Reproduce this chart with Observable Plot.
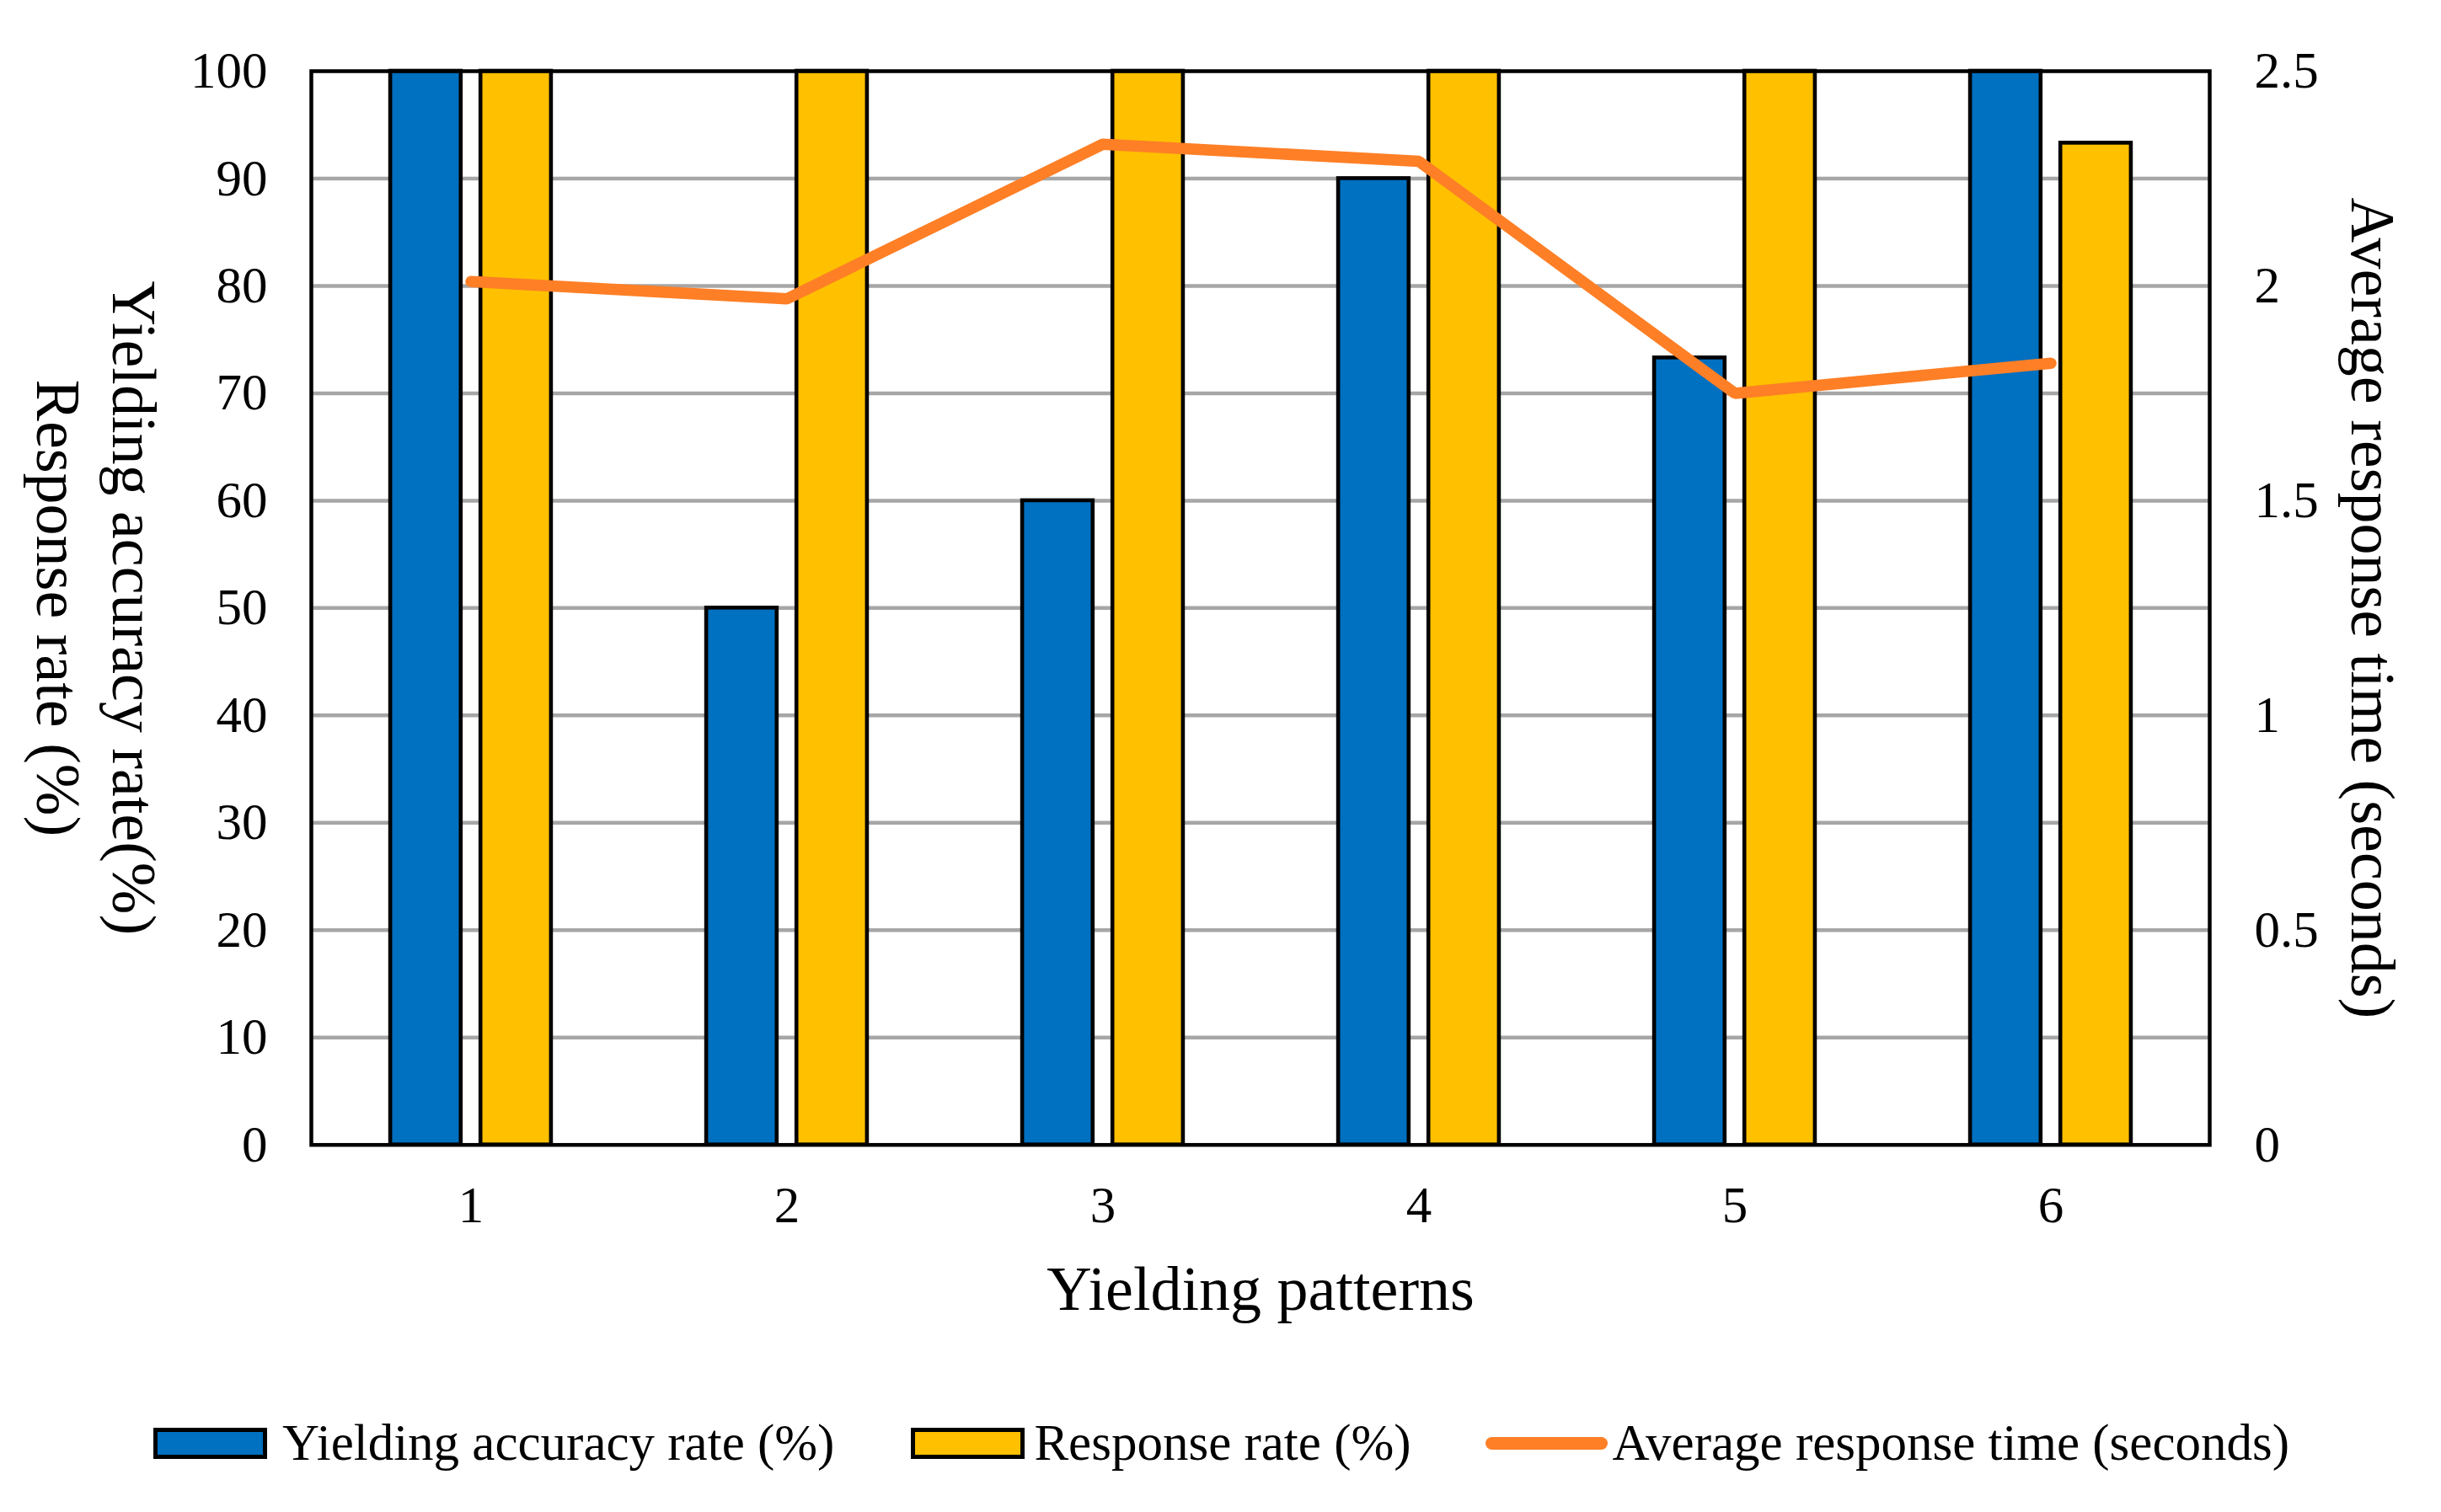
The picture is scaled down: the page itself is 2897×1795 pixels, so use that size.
<!DOCTYPE html>
<html>
<head>
<meta charset="utf-8">
<script src="https://cdn.jsdelivr.net/npm/d3@7"></script>
<script src="https://cdn.jsdelivr.net/npm/@observablehq/plot@0.6"></script>
<style>
  html, body { margin: 0; padding: 0; background: #fff; }
  body { position: relative; width: 2897px; height: 1795px; overflow: hidden; font-family: "Liberation Serif", "Times New Roman", serif; }
  #legend { position: absolute; left: 182px; top: 1675px; height: 76px; display: flex; align-items: center; font-size: 61px; color: #000; white-space: nowrap; }
  #legend .sw { width: 125px; height: 27px; border: 5px solid #000; box-sizing: content-box; }
  #legend .ln { width: 145px; height: 15px; border-radius: 8px; }
  #legend span { line-height: 76px; }
</style>
</head>
<body>
<div id="chart"></div>
<div id="legend"></div>
<script>
// ---- data ----
const patterns = ["1", "2", "3", "4", "5", "6"];
const accuracyRate = [100, 50, 60, 90, 73.3, 100];      // Yielding accuracy rate (%)
const responseRate = [100, 100, 100, 100, 100, 93.3];   // Response rate (%)
const avgResponseTime = [2.01, 1.97, 2.33, 2.29, 1.75, 1.82]; // seconds
const leftTicks = [0, 10, 20, 30, 40, 50, 60, 70, 80, 90, 100];
const rightTicks = [0, 0.5, 1, 1.5, 2, 2.5];
const seriesNames = ["Yielding accuracy rate (%)", "Response rate (%)", "Average response time (seconds)"];
const xTitle = "Yielding patterns";
const leftTitle1 = "Yielding accuracy rate(%)";
const leftTitle2 = "Response rate (%)";
const rightTitle = "Average response time (seconds)";

const colors = { accuracy: "#0070C0", response: "#FFC000", time: "#FE7F26" };

const leftMax = leftTicks[leftTicks.length - 1];
const rightMax = rightTicks[rightTicks.length - 1];
const k = leftMax / rightMax; // maps seconds onto the percent scale

const table = patterns.map((p, i) => ({
  pattern: p,
  accuracy: accuracyRate[i],
  response: responseRate[i],
  time: avgResponseTime[i]
}));
const gridValues = leftTicks.filter(v => v > 0 && v < leftMax);

const W = 2897, H = 1640;
const mL = 369, mR = W - 2622, mT = 84, mB = H - 1358.7;

const chart = Plot.plot({
  width: W,
  height: H,
  marginLeft: mL,
  marginRight: mR,
  marginTop: mT,
  marginBottom: mB,
  style: { fontFamily: "'Liberation Serif', 'Times New Roman', serif", fontSize: "61px", background: "#fff", color: "#000" },
  x: { type: "band", domain: patterns, padding: 0 },
  y: { domain: [0, leftMax] },
  marks: [
    Plot.ruleY(gridValues, { stroke: "#A6A6A6", strokeWidth: 4.5 }),
    Plot.barY(table, { x: "pattern", y: "accuracy", fill: colors.accuracy, stroke: "#000", strokeWidth: 4.6, insetLeft: 92.1, insetRight: 199.2 }),
    Plot.barY(table, { x: "pattern", y: "response", fill: colors.response, stroke: "#000", strokeWidth: 4.6, insetLeft: 199.2, insetRight: 92.1 }),
    Plot.lineY(table, { x: "pattern", y: d => d.time * k, stroke: colors.time, strokeWidth: 13.5, strokeLinecap: "round", strokeLinejoin: "miter" }),
    Plot.frame({ stroke: "#000", strokeWidth: 4.5 }),
    Plot.axisX({ tickSize: 0, tickPadding: 48, fontSize: 61, label: null }),
    Plot.axisY({ anchor: "left", ticks: leftTicks, tickSize: 0, tickPadding: 52, fontSize: 61, label: null, tickFormat: d => String(d) }),
    Plot.axisY({ anchor: "right", ticks: rightTicks.map(t => t * k), tickSize: 0, tickPadding: 53, fontSize: 61, label: null, tickFormat: d => String(+(d / k).toFixed(2)) }),
    Plot.text([xTitle], { text: d => d, frameAnchor: "bottom", textAnchor: "middle", lineAnchor: "middle", dy: 172.6, fontSize: 74, fill: "#000" }),
    Plot.text([leftTitle1], { text: d => d, frameAnchor: "left", textAnchor: "middle", lineAnchor: "middle", rotate: 90, dx: -211.6, fontSize: 74, fill: "#000" }),
    Plot.text([leftTitle2], { text: d => d, frameAnchor: "left", textAnchor: "middle", lineAnchor: "middle", rotate: 90, dx: -301.9, fontSize: 74, fill: "#000" }),
    Plot.text([rightTitle], { text: d => d, frameAnchor: "right", textAnchor: "middle", lineAnchor: "middle", rotate: 90, dx: 191.7, fontSize: 74, fill: "#000" })
  ]
});
document.getElementById("chart").appendChild(chart);

// ---- legend (HTML, below the SVG) ----
const legend = document.getElementById("legend");
const items = [
  { kind: "sw", color: colors.accuracy, name: seriesNames[0], gapText: 18, gapAfter: 91 },
  { kind: "sw", color: colors.response, name: seriesNames[1], gapText: 11, gapAfter: 88 },
  { kind: "ln", color: colors.time, name: seriesNames[2], gapText: 6, gapAfter: 0 }
];
items.forEach(it => {
  const s = document.createElement("div");
  s.className = it.kind;
  s.style.background = it.color;
  legend.appendChild(s);
  const t = document.createElement("span");
  t.textContent = it.name;
  t.style.marginLeft = it.gapText + "px";
  t.style.marginRight = it.gapAfter + "px";
  legend.appendChild(t);
});
</script>
</body>
</html>
